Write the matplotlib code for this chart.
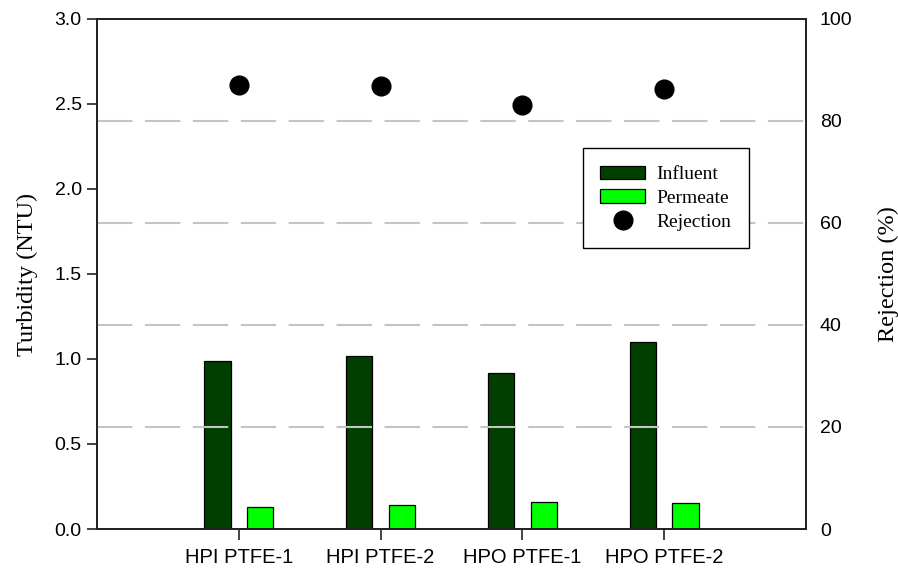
import matplotlib.pyplot as plt
import numpy as np

# membrane samples
samples = ['HPI PTFE-1', 'HPI PTFE-2', 'HPO PTFE-1', 'HPO PTFE-2']
influent = [0.99, 1.02, 0.92, 1.10]     # NTU
permeate = [0.13, 0.14, 0.16, 0.15]     # NTU
rejection = [87.1, 86.9, 83.2, 86.3]    # %

serif = ['Liberation Serif', 'DejaVu Serif']
sans = ['Liberation Sans', 'DejaVu Sans']

fig = plt.figure(figsize=(8.98, 5.75), dpi=100)
ax = fig.add_axes([0.108, 0.08, 0.7896, 0.887])
ax2 = ax.twinx()

x = np.arange(1, len(samples) + 1)
w = 0.185
b1 = ax.bar(x - 0.15, influent, w, color='#003f00', edgecolor='black', linewidth=0.9, label='Influent')
b2 = ax.bar(x + 0.15, permeate, w, color='#00ff00', edgecolor='black', linewidth=0.9, label='Permeate')

# dashed grid from the rejection axis, drawn over the bars
for g in [20, 40, 60, 80]:
    ax2.axhline(g, color='#c4c4c4', linestyle=(0, (17, 6)), linewidth=1.5, zorder=1)
pts, = ax2.plot(x, rejection, 'o', color='black', markersize=13.5, linestyle='none',
                zorder=3, label='Rejection')

ax.set_xlim(0, 5)
ax.set_ylim(0, 3.0)
ax2.set_ylim(0, 100)
ax.set_xticks(x)
ax.set_xticklabels(samples, fontfamily=sans, fontsize=14.5)
ax.set_yticks(np.arange(0, 3.01, 0.5))
ax.set_yticklabels(['%.1f' % v for v in np.arange(0, 3.01, 0.5)], fontfamily=sans, fontsize=14)
ax2.set_yticks([0, 20, 40, 60, 80, 100])
ax2.set_yticklabels(['0', '20', '40', '60', '80', '100'], fontfamily=sans, fontsize=14)

ax.tick_params(axis='x', direction='out', length=8, width=1.2, color='#222222', pad=6)
ax.tick_params(axis='y', direction='out', length=7, width=1.2, color='#222222', pad=4)
ax2.tick_params(axis='y', length=0, pad=10)

for a in (ax, ax2):
    for s in a.spines.values():
        s.set_linewidth(1.3)
        s.set_color('#222222')

ax.set_ylabel('Turbidity (NTU)', fontfamily=serif, fontsize=17.5, labelpad=12)
ax2.set_ylabel('Rejection (%)', fontfamily=serif, fontsize=17.5, rotation=90, labelpad=18)

leg = ax2.legend([b1, b2, pts], ['Influent', 'Permeate', 'Rejection'],
                 loc='upper left', bbox_to_anchor=(0.685, 0.747),
                 prop={'family': serif, 'size': 14}, frameon=True, fancybox=False,
                 edgecolor='black', framealpha=1, borderpad=0.9, labelspacing=0.32,
                 handlelength=2.3, handletextpad=0.6, borderaxespad=0)
leg.get_frame().set_linewidth(1.0)
leg.set_zorder(5)

fig.savefig('out.png', dpi=100)
